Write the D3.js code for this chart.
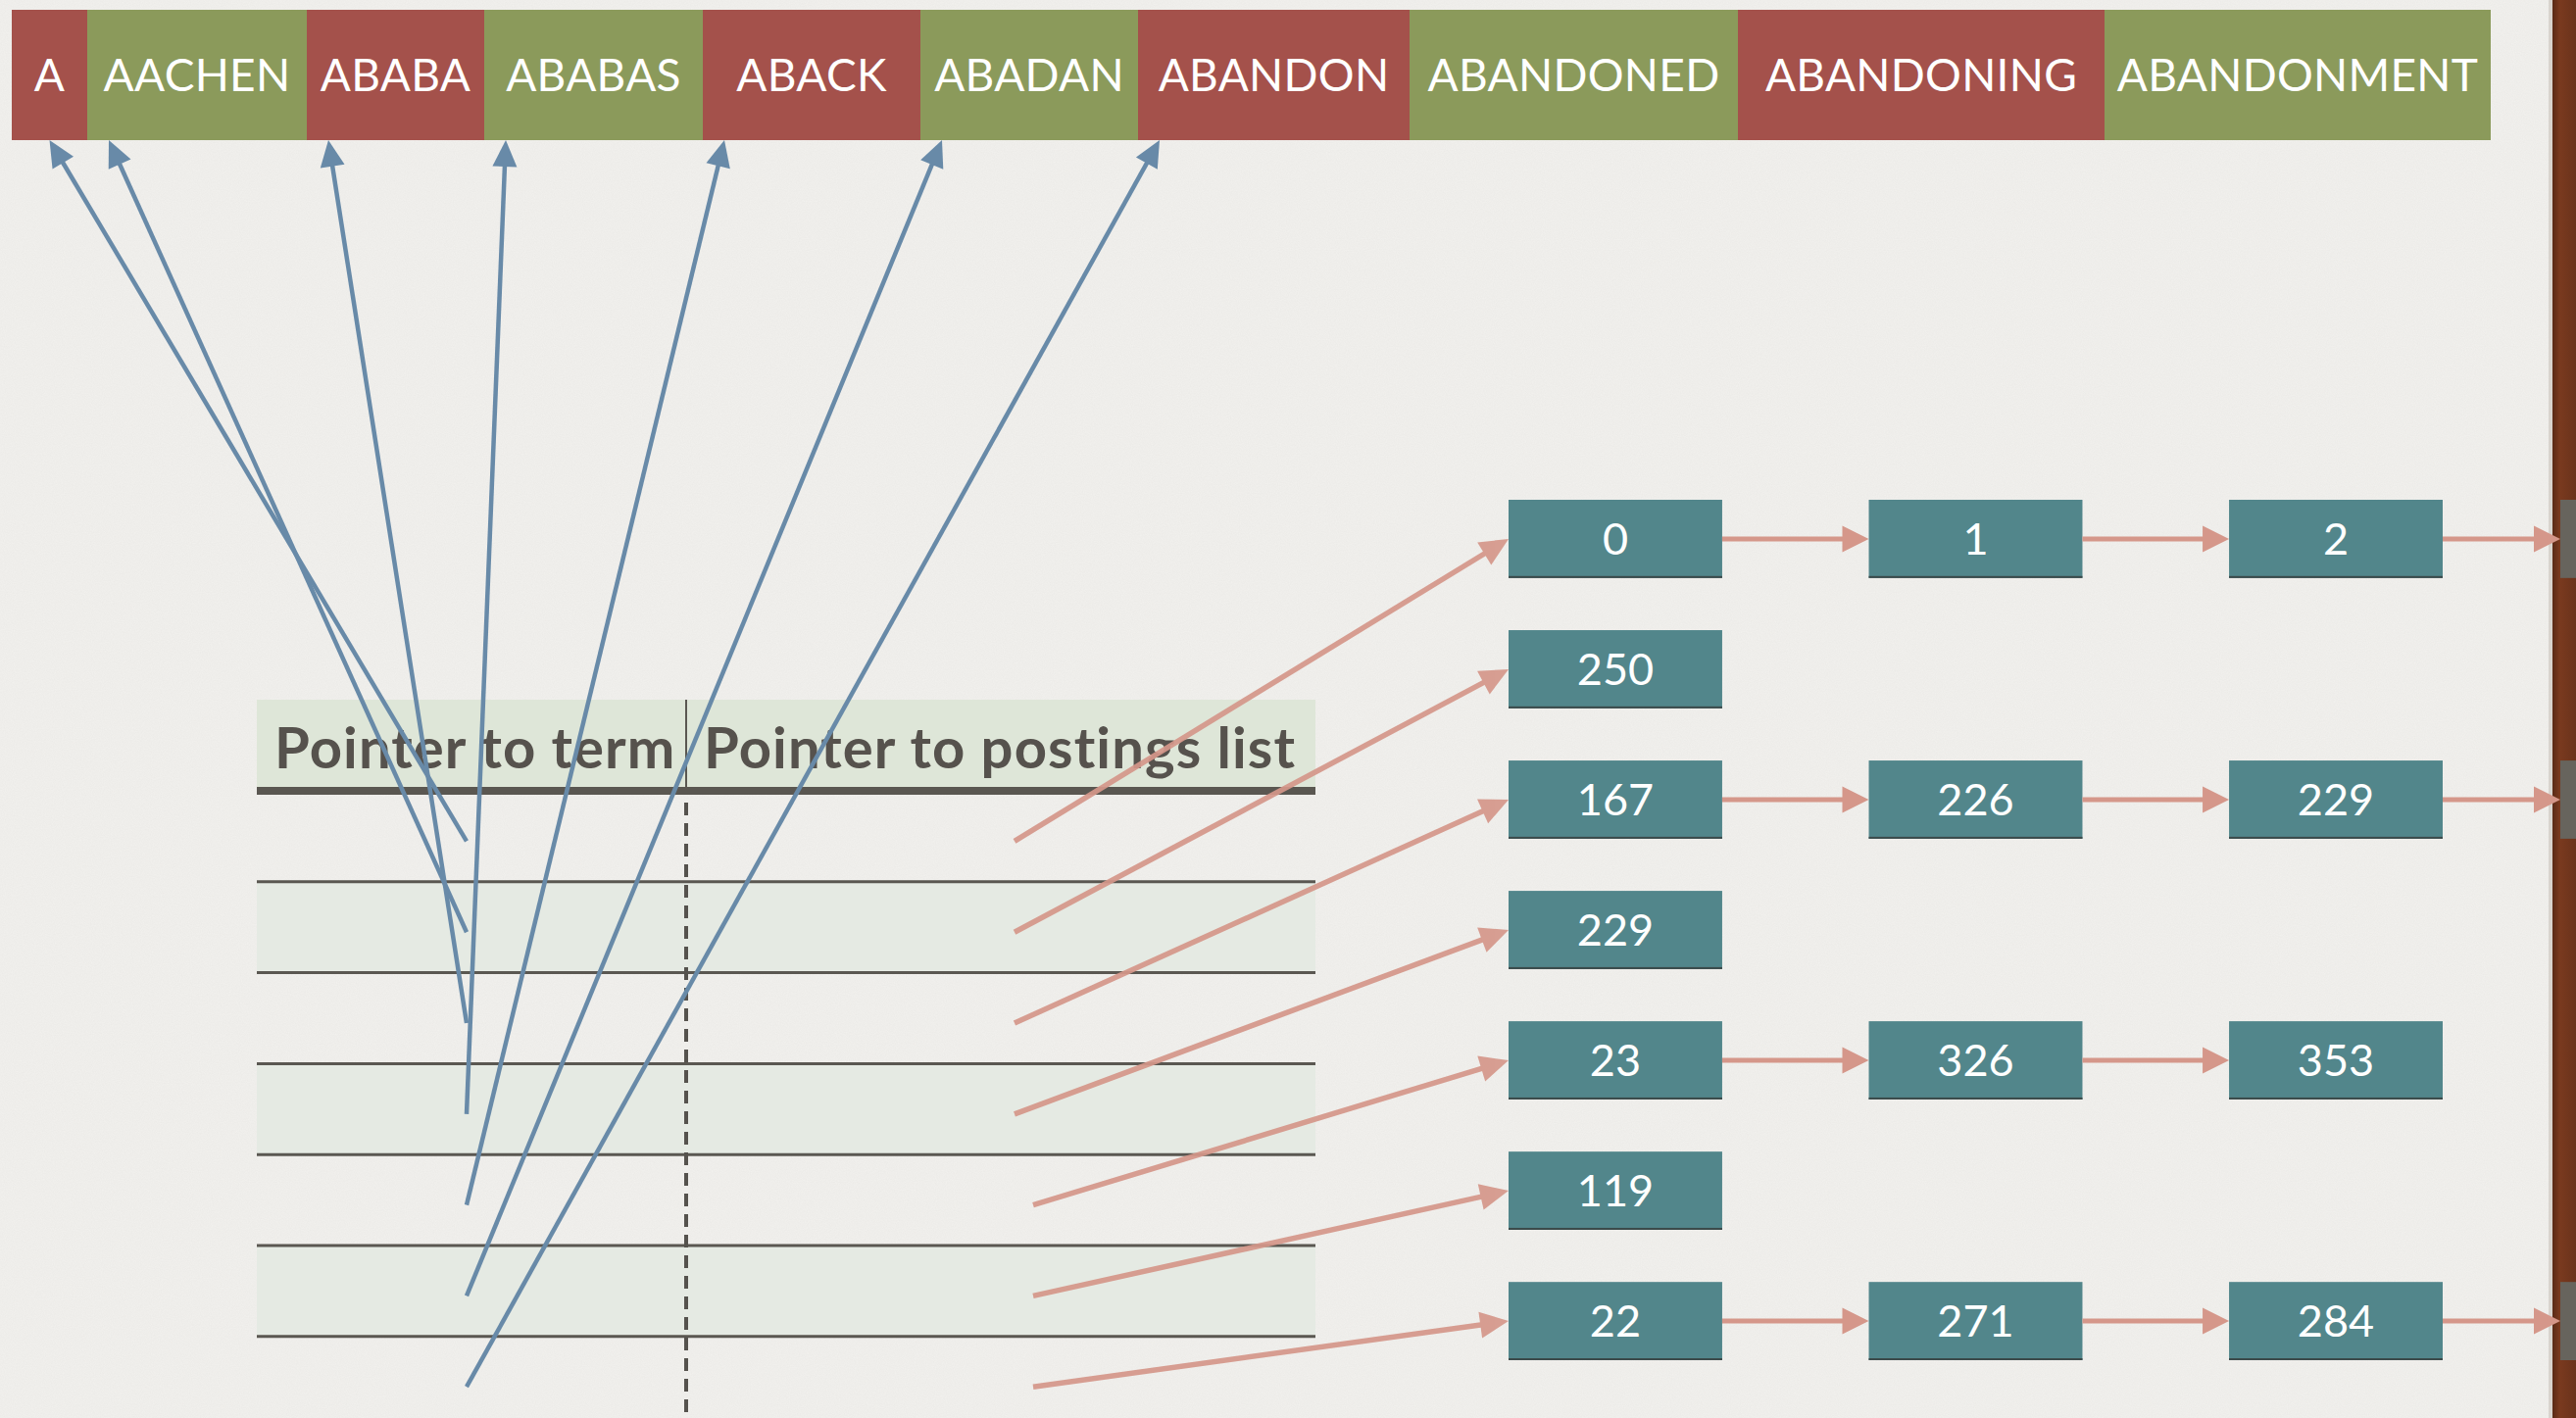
<!DOCTYPE html>
<html><head><meta charset="utf-8">
<script src="https://cdn.jsdelivr.net/npm/d3@7"></script>
<style>html,body{margin:0;padding:0;background:#F2F1EE;overflow:hidden}</style>
</head><body>
<script>
// ---------------- data ----------------
const terms = ["A","AACHEN","ABABA","ABABAS","ABACK","ABADAN","ABANDON","ABANDONED","ABANDONING","ABANDONMENT"];
const termWeights = [77,224,181,223,222,222,277,335,374,394];
const headers = ["Pointer to term","Pointer to postings list"];
const termPointers = [0,1,2,3,4,5,6];           // table row i -> term index
const postings = [[0,1,2],[250],[167,226,229],[229],[23,326,353],[119],[22,271,284]];
const continues = [true,false,true,false,false,false,true];

// ---------------- setup ----------------
const W = 2628, H = 1447;
const svg = d3.select("body").append("svg").attr("width", W).attr("height", H)
  .style("display","block");
const defs = svg.append("defs");
const f = defs.append("filter").attr("id","paper").attr("x",0).attr("y",0).attr("width","100%").attr("height","100%");
f.append("feTurbulence").attr("type","fractalNoise").attr("baseFrequency",0.9).attr("numOctaves",2).attr("seed",3);
f.append("feColorMatrix").attr("values","0 0 0 0 0.45  0 0 0 0 0.44  0 0 0 0 0.42  0 0 0 0.11 0");
const g1 = defs.append("linearGradient").attr("id","wood").attr("x1",0).attr("x2",1).attr("y1",0).attr("y2",0);
g1.append("stop").attr("offset",0).attr("stop-color","#5a2a16");
g1.append("stop").attr("offset",0.3).attr("stop-color","#7a3a1f");
g1.append("stop").attr("offset",1).attr("stop-color","#6a321b");

svg.append("rect").attr("width",W).attr("height",H).attr("fill","#F2F1EE");
svg.append("rect").attr("width",W).attr("height",H).attr("filter","url(#paper)");

const FONT = "Lato, 'Noto Sans', sans-serif";

// ---------------- scales ----------------
const cum = [0]; termWeights.forEach(w => cum.push(cum[cum.length-1] + w));
const xTerm = d3.scaleLinear().domain([0, cum[cum.length-1]]).range([12, 2541]);
const barTop = 10, barBottom = 143;

const tableX = d3.scaleLinear().domain([0, 1]).range([262, 1342]);
const colDiv = 700;
const headerTop = 714, headerBottom = 807;
const rowY = d3.scaleBand().domain(d3.range(7)).range([headerBottom, headerBottom + 7*92.8]);

const postRow = d3.scaleBand().domain(d3.range(7)).range([510, 1388]).paddingInner(0.4);
const postCol = d3.scaleBand().domain(d3.range(3)).range([1539, 2492]).paddingInner(0.407);

// ---------------- arrow helper ----------------
function arrow(sel, x1, y1, x2, y2, color, width, hl, hw, opacity) {
  const dx = x2 - x1, dy = y2 - y1, len = Math.hypot(dx, dy);
  const ux = dx/len, uy = dy/len, px = -uy, py = ux;
  const bx = x2 - ux*hl, by = y2 - uy*hl;
  const g = sel.append("g").attr("opacity", opacity || 1);
  g.append("line").attr("x1",x1).attr("y1",y1).attr("x2",bx + ux*2).attr("y2",by + uy*2)
    .attr("stroke",color).attr("stroke-width",width);
  g.append("path").attr("d", d3.line()([[x2,y2],[bx+px*hw/2,by+py*hw/2],[bx-px*hw/2,by-py*hw/2]]) + "Z")
    .attr("fill",color);
}

// ---------------- term string bar ----------------
const bar = svg.append("g");
terms.forEach((t, i) => {
  const x0 = xTerm(cum[i]), x1 = xTerm(cum[i+1]);
  bar.append("rect").attr("x",x0).attr("y",barTop).attr("width",x1-x0).attr("height",barBottom-barTop)
    .attr("fill", i % 2 === 0 ? "#A4514B" : "#8B9A5B");
  bar.append("text").attr("x",(x0+x1)/2).attr("y",93).attr("text-anchor","middle")
    .attr("font-family",FONT).attr("font-size",46).attr("fill","#fff").attr("letter-spacing",0.3).text(t);
});

// ---------------- table ----------------
const table = svg.append("g");
table.append("rect").attr("x",tableX(0)).attr("y",headerTop).attr("width",tableX(1)-tableX(0))
  .attr("height",headerBottom-headerTop).attr("fill","#DEE6D8");
d3.range(7).forEach(i => {
  if (i % 2 === 1) table.append("rect").attr("x",tableX(0)).attr("y",rowY(i)).attr("width",tableX(1)-tableX(0))
    .attr("height",rowY.bandwidth()).attr("fill","#E5EAE3");
});
d3.range(1,7).forEach(i => {
  table.append("line").attr("x1",tableX(0)).attr("x2",tableX(1)).attr("y1",rowY(i)).attr("y2",rowY(i))
    .attr("stroke","#5A5751").attr("stroke-width",3);
});
table.append("line").attr("x1",colDiv).attr("x2",colDiv).attr("y1",headerTop).attr("y2",headerBottom-4)
  .attr("stroke","#5A5751").attr("stroke-width",2);
table.append("line").attr("x1",colDiv).attr("x2",colDiv).attr("y1",headerBottom+12).attr("y2",H)
  .attr("stroke","#55524D").attr("stroke-width",4).attr("stroke-dasharray","13 8");
table.append("line").attr("x1",tableX(0)).attr("x2",tableX(1)).attr("y1",headerBottom).attr("y2",headerBottom)
  .attr("stroke","#5A5751").attr("stroke-width",8);
[tableX(0), colDiv].forEach((x, i) => {
  table.append("text").attr("x", x + 18).attr("y", 784).attr("font-family",FONT).attr("font-size",58)
    .attr("font-weight",700).attr("fill","#56524D").attr("letter-spacing",1.1).text(headers[i]);
});

// ---------------- posting boxes ----------------
const posts = svg.append("g");
postings.forEach((list, r) => {
  list.forEach((v, c) => {
    const x = postCol(c), y = postRow(r);
    posts.append("rect").attr("x",x).attr("y",y).attr("width",postCol.bandwidth()).attr("height",postRow.bandwidth())
      .attr("fill","#52868B");
    posts.append("rect").attr("x",x).attr("y",y+postRow.bandwidth()-2).attr("width",postCol.bandwidth()).attr("height",2)
      .attr("fill","#3b4a4a");
    posts.append("text").attr("x",x+postCol.bandwidth()/2).attr("y",y+postRow.bandwidth()/2+16)
      .attr("text-anchor","middle").attr("font-family",FONT).attr("font-size",45).attr("fill","#fff").text(v);
    if (c < list.length-1) {
      arrow(posts, x+postCol.bandwidth(), y+postRow.bandwidth()/2, postCol(c+1), y+postRow.bandwidth()/2,
        "#D5978A", 5, 27, 27);
    }
  });
});

// right edge: wood border and next-slide boxes
svg.append("rect").attr("x",2604).attr("y",0).attr("width",24).attr("height",H).attr("fill","url(#wood)");
svg.append("rect").attr("x",2600).attr("y",0).attr("width",4).attr("height",H).attr("fill","#c9c3bb").attr("opacity",0.6);
postings.forEach((list, r) => {
  if (continues[r]) {
    const y = postRow(r);
    svg.append("rect").attr("x",2612).attr("y",y).attr("width",16).attr("height",postRow.bandwidth()).attr("fill","#67645D");
    arrow(svg, postCol(2)+postCol.bandwidth(), y+postRow.bandwidth()/2, 2612, y+postRow.bandwidth()/2,
      "#D5978A", 5, 27, 27);
  }
});

// ---------------- pointers ----------------
const pointers = svg.append("g");
termPointers.forEach((ti, r) => {
  const x0 = xTerm(cum[ti]), w = xTerm(cum[ti+1]) - x0;
  const tipX = w < 100 ? x0 + w/2 : x0 + 22;   // narrow boxes are pointed at their middle
  const tailY = rowY(r) + rowY.bandwidth()/2 + 5;
  arrow(pointers, 476, tailY, tipX, barBottom, "#688AA8", 4.5, 27, 25);
});
postings.forEach((list, r) => {
  const tailY = rowY(r) + rowY.bandwidth()/2 + 5;
  const tailX = r < 4 ? 1035 : 1054;
  arrow(pointers, tailX, tailY, postCol(0), postRow(r)+postRow.bandwidth()/2, "#D5978A", 5.5, 29, 27, 0.92);
});
</script>
</body></html>
